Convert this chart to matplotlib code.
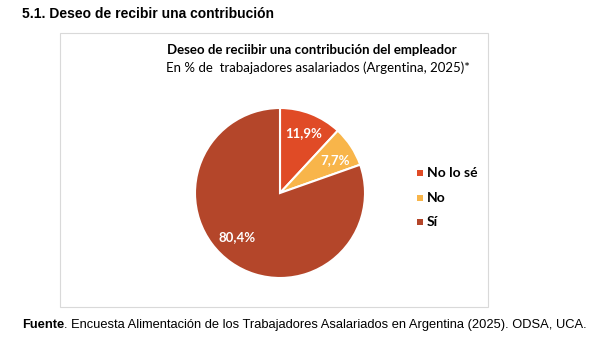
import matplotlib
matplotlib.use("Agg")
import matplotlib.pyplot as plt
from matplotlib.patches import Rectangle

categories = ["No lo sé", "No", "Sí"]
values = [11.9, 7.7, 80.4]
labels = ["11,9%", "7,7%", "80,4%"]
colors = ["#E04B26", "#F8B54A", "#B4462A"]

W, H = 610, 345
fig = plt.figure(figsize=(W/100, H/100), dpi=100)
fig.patch.set_facecolor("white")

# chart box
box = Rectangle((60/W, 1-307/H), (488-60)/W, (307-33)/H, transform=fig.transFigure,
                facecolor="white", edgecolor="#D9D9D9", linewidth=0.8, zorder=-5)
fig.patches.append(box)

fig.text(22/W, 1-14/H, "5.1. Deseo de recibir una contribución", fontsize=10,
         fontweight="bold", family="Liberation Sans", va="center", ha="left")
fig.text(312/W, 1-50/H, "Deseo de reciibir una contribución del empleador", fontsize=9.5,
         fontweight="bold", family="Lato", va="center", ha="center")
fig.text(318/W, 1-68/H, "En % de  trabajadores asalariados (Argentina, 2025)*", fontsize=9.5,
         family="Lato", va="center", ha="center")

cx, cy, r = 280, 193, 85
ax = fig.add_axes([(cx-r)/W, 1-(cy+r)/H, 2*r/W, 2*r/H], zorder=2)
wedges, _ = ax.pie(values, colors=colors, startangle=90, counterclock=False,
                   wedgeprops=dict(edgecolor="white", linewidth=1.5))
ax.set_xlim(-1, 1)
ax.set_ylim(-1, 1)
ax.set_aspect("equal")
pos = [(0.28, 0.71), (0.65, 0.39), (-0.50, -0.52)]
for (x, y), lab in zip(pos, labels):
    ax.text(x, y, lab, color="white", fontsize=9.5, fontweight="bold",
            family="Lato", ha="center", va="center")

# legend
ly = [173, 198, 222]
for c, cat, y in zip(colors, categories, ly):
    fig.patches.append(Rectangle((417/W, 1-(y+3)/H), 6/W, 6/H, transform=fig.transFigure,
                                 facecolor=c, edgecolor="none"))
    fig.text(427/W, 1-y/H, cat, fontsize=10, fontweight="bold", family="Lato",
             va="center", ha="left")

t = fig.text(22/W, 1-325/H, "Fuente", fontsize=9.3, fontweight="bold",
             family="Liberation Sans", va="center", ha="left")
fig.canvas.draw()
bb = t.get_window_extent()
fig.text(bb.x1/W, 1-325/H, ". Encuesta Alimentación de los Trabajadores Asalariados en Argentina (2025). ODSA, UCA.",
         fontsize=9.3, family="Liberation Sans", va="center", ha="left")

fig.savefig("out.png", dpi=100)
